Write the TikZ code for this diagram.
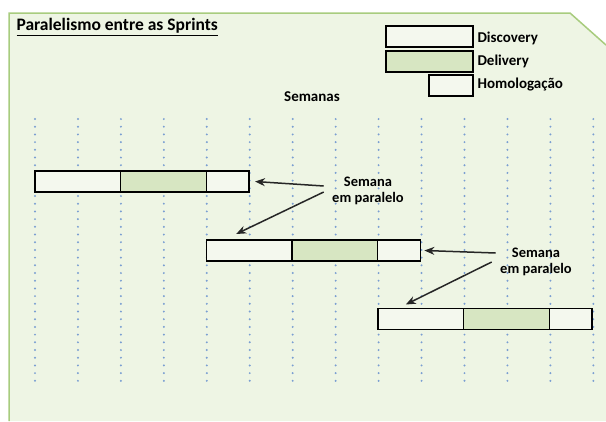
\documentclass[tikz,border=0pt]{standalone}
\usepackage{fontspec}
\setmainfont{Carlito}
\usetikzlibrary{arrows.meta, positioning}
\definecolor{panelbg}{HTML}{EEF5E4}
\definecolor{panelline}{HTML}{A8CC7E}
\definecolor{boxwhite}{HTML}{F4F8EE}
\definecolor{boxgreen}{HTML}{D7E6C2}
\definecolor{dotblue}{HTML}{7A9ED2}

\begin{document}
\begin{tikzpicture}[x=1pt,y=-1pt,every node/.style={font=\bfseries\fontsize{15}{17}\selectfont},
    phase/.style={draw, line width=1.2pt, inner sep=0pt, outer sep=0pt, minimum height=21pt},
    disc/.style={phase, fill=boxwhite, minimum width=85.6pt},
    deli/.style={phase, fill=boxgreen, minimum width=85.6pt},
    homo/.style={phase, fill=boxwhite, minimum width=42.8pt},
    weekline/.style={dotblue, line width=2.2pt, line cap=round, dash pattern=on 0pt off 7.7pt},
    arr/.style={-{Stealth[length=10pt,width=8pt]}, line width=1.5pt, black!85}]
        \useasboundingbox (0,0) rectangle (606,421);
        % fundo
        \fill[panelbg] (9,13) -- (570,13) -- (606,45) -- (606,421) -- (9,421) -- cycle;
        \draw[panelline, line width=1.5pt] (9,421) -- (9,13) -- (570,13) -- (606,45);

        \node[anchor=west, font=\bfseries\fontsize{17.5}{19}\selectfont] (titulo) at (13,27) {\underline{Paralelismo entre as Sprints}};

        % legenda
        \node[disc, minimum width=87pt] (LD) at (429.5,36.5) {};
        \node[deli, minimum width=87pt] (LE) at (429.5,61.5) {};
        \node[homo, minimum width=44pt] (LH) at (451,85.5) {};
        \node[anchor=west] (tD) at (474,38) {Discovery};
        \node[anchor=west] (tE) at (474,61) {Delivery};
        \node[anchor=west] (tH) at (474,85) {Homologação};

        \node (semanas) at (312,97) {Semanas};

        % semanas
        \foreach \i in {0,...,13}{
            \draw[weekline] (35+42.95*\i,119) -- (35+42.95*\i,384);
        }

        % sprints
        \node[disc, anchor=west] (D1) at (35,181.5) {};
        \node[deli, right=0pt of D1] (E1) {};
        \node[homo, right=0pt of E1] (H1) {};

        \node[disc, anchor=west] (D2) at (206.4,250.5) {};
        \node[deli, right=0pt of D2] (E2) {};
        \node[homo, right=0pt of E2] (H2) {};

        \node[disc, anchor=west] (D3) at (378,319) {};
        \node[deli, right=0pt of D3] (E3) {};
        \node[homo, right=0pt of E3] (H3) {};

        % semanas em paralelo
        \node[align=center, font=\bfseries\fontsize{14.5}{16}\selectfont] (par1) at (368,191) {Semana\\em paralelo};
        \node[align=center, font=\bfseries\fontsize{14.5}{16}\selectfont] (par2) at (536,262) {Semana\\em paralelo};

        \draw[arr] ([shift={(-5,-5)}]par1.west) -- ([xshift=6pt]H1.east);
        \draw[arr] ([shift={(-5,1)}]par1.west) -- ([shift={(-13,-6)}]D2.north);
        \draw[arr] ([shift={(-1,-9)}]par2.west) -- ([xshift=4pt]H2.east);
        \draw[arr] ([shift={(-5,0)}]par2.west) -- ([shift={(-15,-4)}]D3.north);
    \end{tikzpicture}
\end{document}
